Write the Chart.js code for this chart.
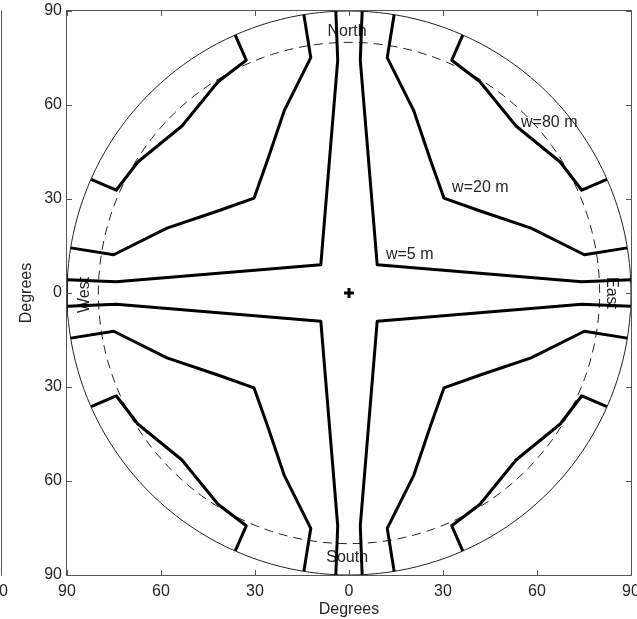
<!DOCTYPE html>
<html>
<head>
<meta charset="utf-8">
<script src="https://cdn.jsdelivr.net/npm/chart.js@4.4.1/dist/chart.umd.min.js"></script>
<style>
  html, body { margin: 0; padding: 0; background: #fff; }
</style>
</head>
<body>
<canvas id="myChart" width="637" height="619"></canvas>
<script>
// tick positions (degrees), labels show the absolute value
var tickValues = [-90, -60, -30, 0, 30, 60, 90];

// horizon circle and dashed ring, radius in degrees
var outerRadius = [90];
var dashedRadius = [80];

// the picture is mirror symmetric, so the other quarters reuse them
var w5X = [4.2, 3.6, 9.0, 74.3, 89.9];
var w5Y = [89.9, 74.3, 9.0, 3.6, 4.2];

var w20X = [14.4, 12.2, 20.7, 26.1, 30.3, 42.1, 58.1, 75.1, 88.8];
var w20Y = [88.8, 75.1, 58.1, 42.1, 30.3, 26.1, 20.7, 12.2, 14.4];

var w80X = [36.3, 32.8, 41.8, 53.3, 67.4, 74.3, 82.3];
var w80Y = [82.3, 74.3, 67.4, 53.3, 41.8, 32.8, 36.3];

// text labels and where they sit (degrees)
var labelText = ['North', 'South', 'West', 'East', 'w=5 m', 'w=20 m', 'w=80 m'];
var labelX = [-0.6, -0.6, -84.3, 83.6, 11.8, 32.9, 54.9];
var labelY = [83.4, -84.4, -0.6, 0, 12.4, 33.5, 54.3];

var quarters = [[1, 1], [-1, 1], [-1, -1], [1, -1]];
var fontFamily = '"Liberation Sans", Arial, Helvetica, sans-serif';
var textColor = '#262626';
var axisColor = '#555';

function circlePoints(r) {
    var pts = [];
    for (var a = 0; a <= 360; a += 2) {
        var t = a * Math.PI / 180;
        pts.push({ x: r * Math.cos(t), y: r * Math.sin(t) });
    }
    return pts;
}

var datasets = [];

datasets.push({
    data: circlePoints(outerRadius[0]),
    showLine: true, pointRadius: 0, borderColor: '#222', borderWidth: 1, order: 3
});
datasets.push({
    data: circlePoints(dashedRadius[0]),
    showLine: true, pointRadius: 0, borderColor: '#222', borderWidth: 1,
    borderDash: [9, 6], order: 3
});

[[w5X, w5Y], [w20X, w20Y], [w80X, w80Y]].forEach(function (c) {
    quarters.forEach(function (q) {
        datasets.push({
            data: c[0].map(function (x, i) { return { x: q[0] * x, y: q[1] * c[1][i] }; }),
            showLine: true, pointRadius: 0, borderColor: '#000', borderWidth: 3,
            borderJoinStyle: 'round', order: 2
        });
    });
});

datasets.push({
    data: [{ x: 0, y: 0 }],
    pointStyle: 'cross', pointRadius: 5, borderWidth: 3,
    borderColor: '#000', backgroundColor: '#000', order: 1
});

// box, inward tick marks, labels and the cut-off neighbouring axis
var decorations = {
    id: 'decorations',
    beforeDatasetsDraw: function (chart) {
        var c = chart.ctx, xs = chart.scales.x, ys = chart.scales.y;
        c.save();
        c.font = '16px ' + fontFamily;
        c.fillStyle = textColor;
        c.textBaseline = 'middle';
        labelText.forEach(function (t, i) {
            var px = xs.getPixelForValue(labelX[i]);
            var py = ys.getPixelForValue(labelY[i]);
            c.save();
            c.translate(px, py);
            if (i === 2) c.rotate(-Math.PI / 2);
            if (i === 3) c.rotate(Math.PI / 2);
            c.textAlign = i < 4 ? 'center' : 'left';
            c.fillText(t, 0, 0);
            c.restore();
        });
        c.restore();
    },
    afterDraw: function (chart) {
        var c = chart.ctx, a = chart.chartArea;
        var xs = chart.scales.x, ys = chart.scales.y;
        c.save();
        c.strokeStyle = axisColor;
        c.lineWidth = 1;
        c.strokeRect(a.left - 0.5, a.top - 0.5, a.right - a.left + 1, a.bottom - a.top + 1);
        c.beginPath();
        tickValues.forEach(function (v) {
            var px = Math.round(xs.getPixelForValue(v)) + 0.5;
            var py = Math.round(ys.getPixelForValue(v)) + 0.5;
            c.moveTo(px, a.bottom); c.lineTo(px, a.bottom - 5);
            c.moveTo(px, a.top); c.lineTo(px, a.top + 5);
            c.moveTo(a.left, py); c.lineTo(a.left + 5, py);
            c.moveTo(a.right, py); c.lineTo(a.right - 5, py);
        });
        // right edge of the neighbouring panel
        c.moveTo(1.5, a.top - 0.5); c.lineTo(1.5, a.bottom + 0.5);
        c.stroke();
        c.font = '16px ' + fontFamily;
        c.fillStyle = textColor;
        c.textAlign = 'center';
        c.textBaseline = 'middle';
        c.fillText('90', -1, a.bottom + 16.6);
        c.restore();
    }
};

function noPad(s) {
    s.paddingLeft = 0; s.paddingRight = 0;
    s.paddingTop = 0; s.paddingBottom = 0;
}

var ctx = document.getElementById('myChart').getContext('2d');
var myChart = new Chart(ctx, {
    type: 'scatter',
    data: { datasets: datasets },
    plugins: [decorations],
    options: {
        responsive: false,
        animation: false,
        layout: {
            autoPadding: false,
            padding: { top: 11, right: 6, left: 0, bottom: 0 }
        },
        plugins: {
            legend: { display: false },
            tooltip: { enabled: false }
        },
        scales: {
            x: {
                type: 'linear', min: -90, max: 90,
                afterBuildTicks: function (s) { s.ticks = tickValues.map(function (v) { return { value: v }; }); },
                afterFit: function (s) { s.height = 44; noPad(s); },
                grid: { display: false, drawTicks: false },
                border: { display: false },
                ticks: {
                    callback: function (v) { return Math.abs(v); },
                    padding: 7, maxRotation: 0, autoSkip: false,
                    color: textColor, font: { family: fontFamily, size: 16 }
                },
                title: {
                    display: true, text: 'Degrees', color: textColor,
                    font: { family: fontFamily, size: 16 },
                    padding: { top: 0, bottom: 0 }
                }
            },
            y: {
                type: 'linear', min: -90, max: 90,
                afterBuildTicks: function (s) { s.ticks = tickValues.map(function (v) { return { value: v }; }); },
                afterFit: function (s) { s.width = 67; noPad(s); },
                grid: { display: false, drawTicks: false },
                border: { display: false },
                ticks: {
                    callback: function (v) { return Math.abs(v); },
                    padding: 5, autoSkip: false,
                    color: textColor, font: { family: fontFamily, size: 16 }
                },
                title: {
                    display: true, text: 'Degrees', color: textColor,
                    font: { family: fontFamily, size: 16 },
                    padding: { top: 17, bottom: 0 }
                }
            }
        }
    }
});
</script>
</body>
</html>
